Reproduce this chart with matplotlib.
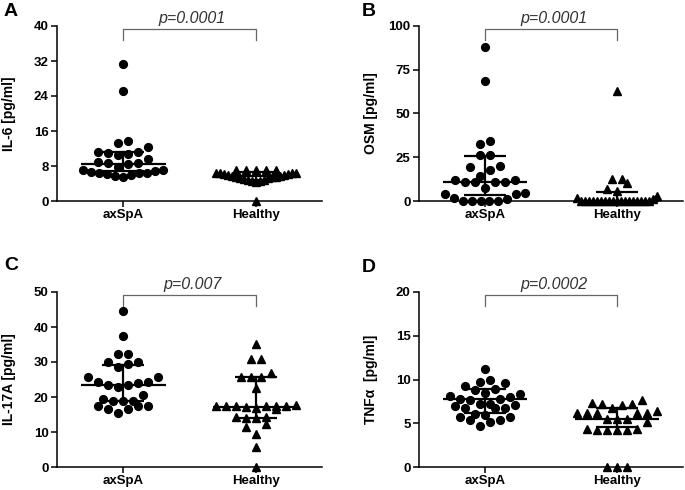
import numpy as np
import matplotlib
matplotlib.use("Agg")
import matplotlib.pyplot as plt

plt.rcParams['font.family'] = ['Liberation Sans', 'DejaVu Sans']

groups = ["axSpA", "Healthy"]

# ---- data ----
il6_axspa = [31.3, 25.2, 13.8, 13.3, 12.4, 11.3, 11.2, 10.9, 10.7, 10.6, 9.5, 8.8, 8.7,
             8.6, 8.5, 7.8, 7.2, 7.0, 6.8, 6.7, 6.5, 6.4, 6.3, 6.2, 6.0, 5.8, 5.5]
il6_healthy = [7.1, 7.0, 7.1, 7.0, 7.1, 6.4, 6.3, 6.2, 6.3, 6.4, 6.2, 6.0, 5.9, 5.8,
               5.7, 5.6, 5.5, 5.4, 5.3, 5.2, 5.0, 4.9, 4.8, 4.6, 4.5, 4.3, 0.0]
il6_q1 = [6.8, 4.9]
il6_med = [8.5, 5.7]
il6_q3 = [11.3, 6.6]

osm_axspa = [88.0, 68.3, 34.0, 32.7, 26.4, 26.4, 19.8, 19.5, 17.9, 14.4, 12.2, 12.0, 10.8,
             10.8, 10.8, 10.8, 7.4, 4.3, 4.2, 4.0, 1.5, 1.3, 0.2, 0.0, 0.0, 0.0, 0.0]
osm_healthy = [63.0, 12.5, 12.5, 10.3, 7.0, 6.0, 2.7, 1.5, 1.0] + [0.0] * 18
osm_q1 = [3.6, 0.0]
osm_med = [10.8, 0.0]
osm_q3 = [25.9, 5.1]

il17_axspa = [44.6, 37.4, 32.2, 32.2, 30.1, 30.1, 29.3, 28.7, 25.6, 25.6, 24.4, 24.4, 24.1,
              23.4, 23.4, 22.8, 20.6, 19.5, 18.9, 18.9, 18.9, 17.4, 17.4, 17.4, 16.5, 16.5, 15.3]
il17_healthy = [35.1, 31.0, 31.0, 26.8, 25.8, 25.8, 25.8, 22.7, 17.8, 17.4, 17.4, 17.4, 17.2,
                17.0, 17.3, 17.4, 17.4, 16.5, 14.3, 14.0, 14.0, 14.3, 12.2, 11.5, 9.4, 5.8, 0.0]
il17_q1 = [18.9, 13.9]
il17_med = [23.4, 17.1]
il17_q3 = [29.1, 25.8]

tnf_axspa = [11.2, 10.0, 9.7, 9.6, 9.3, 8.9, 8.8, 8.5, 8.3, 8.1, 8.0, 7.8, 7.8, 7.7, 7.2,
             7.2, 7.1, 7.0, 6.8, 6.8, 6.7, 6.1, 6.0, 5.7, 5.7, 5.4, 5.4, 5.1, 4.7]
tnf_healthy = [7.66, 7.35, 7.2, 7.2, 7.1, 6.8, 6.43, 6.2, 6.2, 6.2, 6.2, 6.2, 5.46, 5.46,
               5.2, 5.46, 4.3, 4.2, 4.2, 4.2, 4.2, 4.3, 0.0, 0.0, 0.0]
tnf_q1 = [6.15, 4.6]
tnf_med = [7.74, 5.46]
tnf_q3 = [8.9, 6.8]

panels = [
    dict(letter="A", ylabel="IL-6 [pg/ml]", ymax=40, yticks=[0, 8, 16, 24, 32, 40],
         data=[il6_axspa, il6_healthy], q1=il6_q1, med=il6_med, q3=il6_q3, p="p=0.0001",
         box=(57, 26, 322, 201), lpos=(4, 11)),
    dict(letter="B", ylabel="OSM [pg/ml]", ymax=100, yticks=[0, 25, 50, 75, 100],
         data=[osm_axspa, osm_healthy], q1=osm_q1, med=osm_med, q3=osm_q3, p="p=0.0001",
         box=(419, 26, 683, 201), lpos=(362, 11)),
    dict(letter="C", ylabel="IL-17A [pg/ml]", ymax=50, yticks=[0, 10, 20, 30, 40, 50],
         data=[il17_axspa, il17_healthy], q1=il17_q1, med=il17_med, q3=il17_q3, p="p=0.007",
         box=(57, 292, 322, 467), lpos=(4, 265)),
    dict(letter="D", ylabel="TNF\u03b1  [pg/ml]", ymax=20, yticks=[0, 5, 10, 15, 20],
         data=[tnf_axspa, tnf_healthy], q1=tnf_q1, med=tnf_med, q3=tnf_q3, p="p=0.0002",
         box=(419, 292, 683, 467), lpos=(362, 267)),
]

W, H = 685, 490
fig = plt.figure(figsize=(W / 100, H / 100), dpi=100)


def row_offsets(vals, px_per_unit, thresh_px=10.0, spacing_px=10.0, max_w_px=80.0):
    vals = np.asarray(vals, float)
    order = np.argsort(vals, kind="stable")
    offs = np.zeros(len(vals))
    rows = []
    cur = []
    start = None
    for i in order:
        v = vals[i]
        if start is None or (v - start) * px_per_unit < thresh_px:
            if start is None:
                start = v
            cur.append(i)
        else:
            rows.append(cur)
            cur = [i]
            start = v
    if cur:
        rows.append(cur)
    for r in rows:
        n = len(r)
        sp = spacing_px if n < 2 else min(spacing_px, max_w_px / (n - 1))
        pos = (np.arange(n) - (n - 1) / 2.0) * sp
        pos_order = sorted(range(n), key=lambda k: (abs(pos[k]), pos[k]))
        for rank, idx in enumerate(r):  # r is ascending by value
            offs[idx] = pos[pos_order[rank]]
    return offs


for pn in panels:
    x0, yt, x1, yb = pn["box"]
    ax = fig.add_axes([x0 / W, 1 - yb / H, (x1 - x0) / W, (yb - yt) / H])
    ymax = pn["ymax"]
    axw = x1 - x0
    axh = yb - yt
    ax.set_xlim(-0.5, 1.5)
    ax.set_ylim(0, ymax)
    ppu = axh / ymax
    markers = ["o", "^"]
    msz = [5.6, 6.2]
    for gi, vals in enumerate(pn["data"]):
        offs_px = row_offsets(vals, ppu)
        xs = gi + offs_px * 2.0 / axw
        ax.plot(xs, vals, linestyle="none", marker=markers[gi], ms=msz[gi],
                color="black", mec="black", clip_on=False, zorder=3)
        # median & IQR
        ax.plot([gi - 0.32, gi + 0.32], [pn["med"][gi]] * 2, color="black", lw=1.6,
                solid_capstyle="butt", clip_on=False, zorder=4)
        for q in (pn["q1"][gi], pn["q3"][gi]):
            ax.plot([gi - 0.16, gi + 0.16], [q, q], color="black", lw=1.6,
                    solid_capstyle="butt", clip_on=False, zorder=4)
        ax.plot([gi, gi], [pn["q1"][gi], pn["q3"][gi]], color="black", lw=1.6,
                clip_on=False, zorder=4)
    # significance bracket
    top = ymax * 0.985
    bot = ymax * 0.92
    ax.plot([0, 0, 1, 1], [bot, top, top, bot], color="#666666", lw=0.9, clip_on=False)
    ax.text(0.52, top + ymax * 0.035, pn["p"], ha="center", va="baseline",
            style="italic", fontsize=11.5, color="#333333")
    # axes styling
    for s in ("top", "right"):
        ax.spines[s].set_visible(False)
    for s in ("left", "bottom"):
        ax.spines[s].set_linewidth(1.1)
    ax.set_yticks(pn["yticks"])
    ax.set_yticklabels([str(t) for t in pn["yticks"]], fontweight="bold", fontsize=9.5)
    ax.set_xticks([0, 1])
    ax.set_xticklabels(groups, fontweight="bold", fontsize=9.5)
    ax.tick_params(direction="out", length=4, width=1.1, pad=2)
    ax.set_ylabel(pn["ylabel"], fontweight="bold", fontsize=10)
    ax.yaxis.label.set_va("center")
    ax.yaxis.set_label_coords(-0.18, 0.5)
    # panel letter
    lx, ly = pn["lpos"]
    fig.text(lx / W, 1 - ly / H, pn["letter"], fontsize=14,
             fontweight="bold", ha="left", va="center")

fig.savefig("out.png", dpi=100)
